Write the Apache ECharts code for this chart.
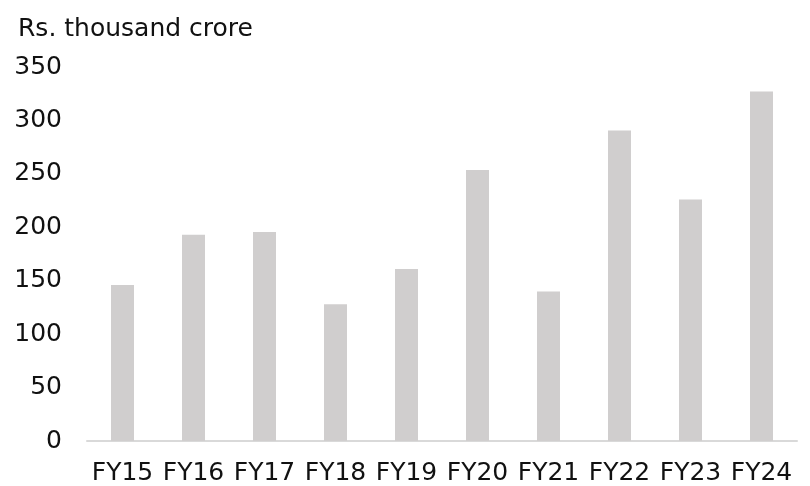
<!DOCTYPE html>
<html>
<head>
<meta charset="utf-8">
<script src="https://cdn.jsdelivr.net/npm/echarts@6/dist/echarts.min.js"></script>
<style>
html,body{margin:0;padding:0;background:#fff;}
#chart{width:810px;height:486px;}
</style>
</head>
<body>
<div id="chart"></div>
<script>
const categories = ['FY15','FY16','FY17','FY18','FY19','FY20','FY21','FY22','FY23','FY24'];
const values = [146, 193, 195.5, 128, 161, 253.5, 140, 290.5, 226, 327];
const yTicks = { min: 0, max: 350, interval: 50 };
const unitLabel = 'Rs. thousand crore';

const FONT = 'DejaVu Sans';
const chart = echarts.init(document.getElementById('chart'), null, { renderer: 'canvas' });
chart.setOption({
  animation: false,
  backgroundColor: '#ffffff',
  title: {
    text: unitLabel,
    left: 13,
    top: 12,
    textStyle: { fontFamily: FONT, fontSize: 25, fontWeight: 'normal', color: '#111' }
  },
  grid: { left: 87, right: 13, top: 67, bottom: 43, containLabel: false },
  xAxis: {
    type: 'category',
    data: categories,
    axisLine: { show: true, lineStyle: { color: '#d9d9d9', width: 2 } },
    axisTick: { show: false },
    axisLabel: { fontFamily: FONT, fontSize: 25, color: '#111', margin: 20, interval: 0 }
  },
  yAxis: {
    type: 'value',
    min: yTicks.min,
    max: yTicks.max,
    interval: yTicks.interval,
    axisLine: { show: false },
    axisTick: { show: false },
    splitLine: { show: false },
    axisLabel: { fontFamily: FONT, fontSize: 25, color: '#111', margin: 25 }
  },
  series: [{
    type: 'bar',
    data: values,
    barWidth: 23,
    itemStyle: { color: '#d0cece' }
  }]
});
</script>
</body>
</html>
